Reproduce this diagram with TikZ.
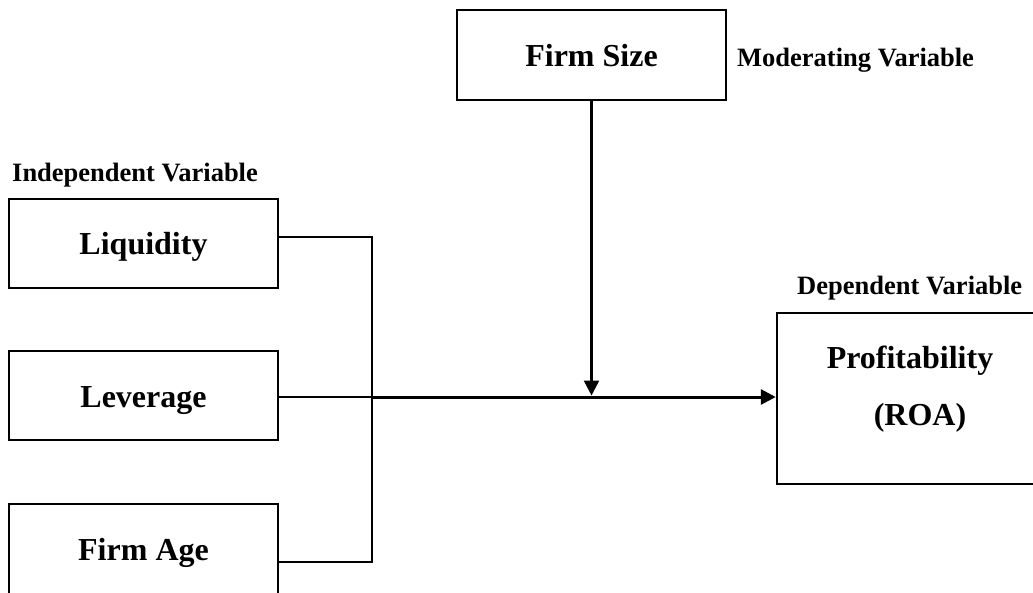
\documentclass[tikz,border=0pt]{standalone}
\usepackage{fontspec}
\setmainfont{Liberation Serif}
\usetikzlibrary{arrows.meta}
\begin{document}
\begin{tikzpicture}[x=1pt,y=-1pt,
  box/.style={draw,line width=2.5pt,minimum width=269pt,minimum height=89pt,inner sep=0pt,
    font=\fontsize{32}{38}\selectfont\bfseries,text height=30pt,text depth=7pt},
  lab/.style={anchor=base west,inner sep=0pt,font=\fontsize{26.5}{32}\selectfont\bfseries},
  big/.style={anchor=base,inner sep=0pt,font=\fontsize{32}{38}\selectfont\bfseries},
  conn/.style={line width=2pt},
  main/.style={line width=3pt},
  tip/.style={-{Triangle[length=15pt,width=15pt]}}]
\useasboundingbox (0,0) rectangle (1033,593);
\clip (0,0) rectangle (1033,593);
% boxes
\node[box,minimum height=90pt] (fs) at (591.5,55) {Firm Size};
\node[box] (liq) at (143.5,243.5) {Liquidity};
\node[box] (lev) at (143.5,395.5) {Leverage};
\node[box,minimum height=90pt] (age) at (143.5,549) {Firm Age};
\node[box,minimum width=266pt,minimum height=171pt] (prof) at (910,398.5) {};
\node[big] (proft) at (910,368) {Profitability};
\node[big] (roa) at (920,425) {(ROA)};
% labels
\node[lab] (indep) at (12,182) {Independent Variable};
\node[lab] (moder) at (737,67) {Moderating Variable};
\node[lab] (dep) at (797,295) {Dependent Variable};
% junction coordinates
\coordinate (j1) at (372,237);
\coordinate (j2) at (372,562);
\coordinate (jm) at (372,397);
% connectors
\draw[conn] (liq.east |- j1) -- (j1) -- (j2) -- (age.east |- j2);
\draw[conn] (lev.east |- jm) -- (jm);
\draw[main,tip] (jm) -- (prof.west |- jm);
\draw[line width=2.5pt,tip,shorten >=1.5pt] (fs.south) -- (fs.south |- jm);
\end{tikzpicture}
\end{document}
